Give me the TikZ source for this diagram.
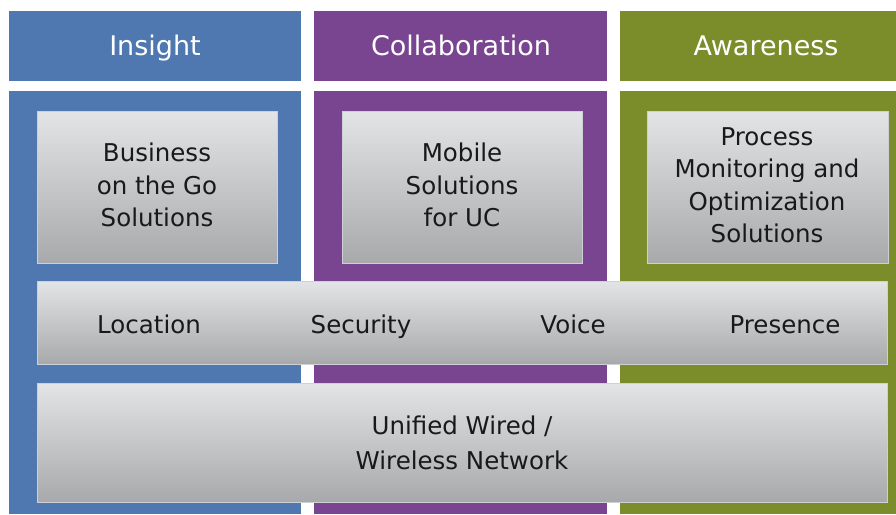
\documentclass[tikz,border=0pt]{standalone}
\usepackage{fontspec}
\setmainfont{DejaVu Sans}
\definecolor{cblue}{HTML}{4F78B0}
\definecolor{cpurple}{HTML}{7A4590}
\definecolor{cgreen}{HTML}{7B8C2B}
\definecolor{gtop}{HTML}{E3E4E6}
\definecolor{gbot}{HTML}{A8A9AB}
\definecolor{gedge}{HTML}{CDD0D6}
\begin{document}
\begin{tikzpicture}[x=1pt,y=-1pt,
  colbox/.style={rectangle,inner sep=0,outer sep=0,anchor=north west},
  headtext/.style={text=white,anchor=base,inner sep=0,font=\fontsize{27}{30}\selectfont},
  graybox/.style={rectangle,inner sep=0,outer sep=0,anchor=north west,
    top color=gtop,bottom color=gbot,draw=gedge,line width=0.8pt},
  bodytext/.style={text=black!90,align=center,font=\fontsize{24.5}{32.5}\selectfont},
  rowtext/.style={text=black!90,anchor=base,inner sep=0,font=\fontsize{24.5}{32.5}\selectfont}]
\useasboundingbox (0,0) rectangle (896,514);
\fill[white] (0,0) rectangle (896,514);
% columns
\node[colbox,fill=cblue,minimum width=292pt,minimum height=70pt] (h1) at (9,11) {};
\node[colbox,fill=cblue,minimum width=292pt,minimum height=423pt] (c1) at (9,91) {};
\node[colbox,fill=cpurple,minimum width=293pt,minimum height=70pt] (h2) at (314,11) {};
\node[colbox,fill=cpurple,minimum width=293pt,minimum height=423pt] (c2) at (314,91) {};
\node[colbox,fill=cgreen,minimum width=276pt,minimum height=70pt] (h3) at (620,11) {};
\node[colbox,fill=cgreen,minimum width=276pt,minimum height=423pt] (c3) at (620,91) {};
\node[headtext] (t1) at (155,55) {Insight};
\node[headtext] (t2) at (461,55) {Collaboration};
\node[headtext] (t3) at (766,55) {Awareness};
% solution boxes
\node[graybox,minimum width=240pt,minimum height=152pt] (b1) at (37,111) {};
\node[graybox,minimum width=240pt,minimum height=152pt] (b2) at (342,111) {};
\node[graybox,minimum width=241pt,minimum height=152pt] (b3) at (647,111) {};
\node[bodytext] (l1) at (157,185) {Business\\on the Go\\Solutions};
\node[bodytext] (l2) at (462,185) {Mobile\\Solutions\\for UC};
\node[bodytext] (l3) at (767,185) {Process\\Monitoring and\\Optimization\\Solutions};
% services bar
\node[graybox,minimum width=850pt,minimum height=83pt] (bar) at (37,281) {};
\node[rowtext] (s1) at (149,333) {Location};
\node[rowtext] (s2) at (361,333) {Security};
\node[rowtext] (s3) at (573,333) {Voice};
\node[rowtext] (s4) at (785,333) {Presence};
% network bar
\node[graybox,minimum width=850pt,minimum height=119pt] (net) at (37,383) {};
\node[bodytext,font=\fontsize{24.5}{35}\selectfont] (nt) at (462,443) {Unified Wired /\\Wireless Network};
\end{tikzpicture}
\end{document}
